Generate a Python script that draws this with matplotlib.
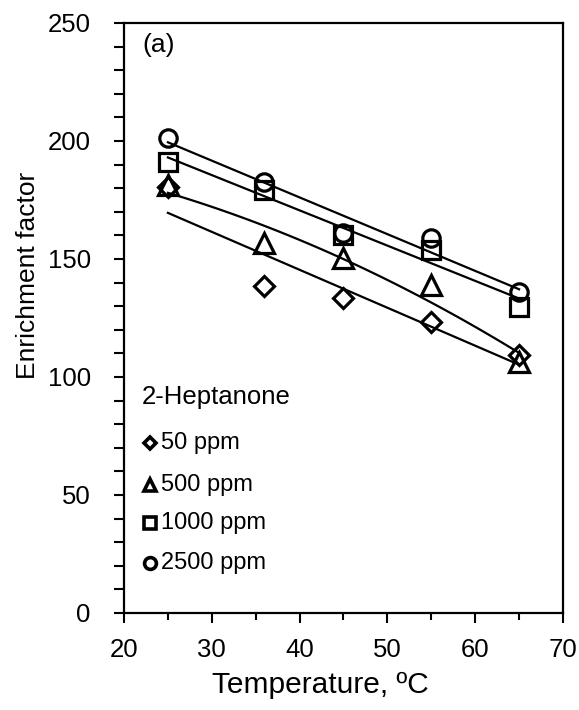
import numpy as np
import matplotlib
matplotlib.use("Agg")
import matplotlib.pyplot as plt

# ---- data ----
temperature = [25, 36, 45, 55, 65]
ef_50 = [180.6, 138.7, 133.3, 123.4, 109.3]
ef_500 = [181.4, 156.6, 150.3, 139.0, 106.5]
ef_1000 = [191.2, 179.2, 160.2, 153.8, 129.8]
ef_2500 = [201.3, 182.8, 160.9, 158.8, 136.2]
series_labels = ["50 ppm", "500 ppm", "1000 ppm", "2500 ppm"]
fit_degree = [1, 2, 1, 1]
compound = "2-Heptanone"
panel = "(a)"
x_ticks = [20, 30, 40, 50, 60, 70]
y_ticks = [0, 50, 100, 150, 200, 250]

plt.rcParams['font.family'] = ['Liberation Sans', 'DejaVu Sans']

fig = plt.figure(figsize=(5.79, 7.10), dpi=100)
ax = fig.add_axes([124/579, 1-613/710, 439/579, 590/710])

markers = ['D', '^', 's', 'o']
msizes = [10, 14, 13.5, 12.5]
series = [ef_50, ef_500, ef_1000, ef_2500]

for yv, m, ms, deg in zip(series, markers, msizes, fit_degree):
    xv = np.array(temperature, float)
    yv = np.array(yv, float)
    coef = np.polyfit(xv, yv, deg)
    xx = np.linspace(xv.min(), xv.max(), 100)
    ax.plot(xx, np.polyval(coef, xx), color='black', lw=1.6, zorder=2)
    ax.plot(xv, yv, linestyle='none', marker=m, ms=ms, mfc='none',
            mec='black', mew=2.3, zorder=3)

ax.set_xlim(20, 70)
ax.set_ylim(0, 250)
ax.set_xticks(x_ticks)
ax.set_yticks(y_ticks)
ax.set_xticks(np.arange(20, 71, 5), minor=True)
ax.set_yticks(np.arange(0, 251, 10), minor=True)
ax.tick_params(axis='both', which='both', direction='out', width=1.5,
               labelsize=18.5, colors='black')
ax.tick_params(axis='y', which='major', length=7, pad=17)
ax.tick_params(axis='y', which='minor', length=7)
ax.tick_params(axis='x', which='major', length=7, pad=11)
ax.tick_params(axis='x', which='minor', length=5)
for s in ax.spines.values():
    s.set_linewidth(1.6)

ax.set_xlabel("Temperature, ºC", fontsize=21.5)
ax.set_ylabel("Enrichment factor", fontsize=19)
ax.xaxis.set_label_coords((320-124)/439, (613-685)/590)
ax.xaxis.label.set_va('center')
ax.yaxis.set_label_coords((28-124)/439, (613-275)/590)
ax.yaxis.label.set_va('center')

def ax_xy(px, py):
    return ((px-124)/439, (613-py)/590)

ax.text(*ax_xy(142, 45), panel, transform=ax.transAxes, fontsize=19,
        ha='left', va='center')
ax.text(*ax_xy(142, 397), compound, transform=ax.transAxes, fontsize=18.5,
        ha='left', va='center')
leg_y = [443, 485, 523, 563]
leg_ms = [6.5, 9, 9, 8.5]
for lab, m, ms, py in zip(series_labels, markers, leg_ms, leg_y):
    ax.plot(*ax_xy(150, py), marker=m, ms=ms, mfc='none', mec='black',
            mew=2.6, transform=ax.transAxes, clip_on=False)
    ax.text(*ax_xy(161, py), lab, transform=ax.transAxes, fontsize=17,
            ha='left', va='center')

fig.savefig("out.png", dpi=100)
